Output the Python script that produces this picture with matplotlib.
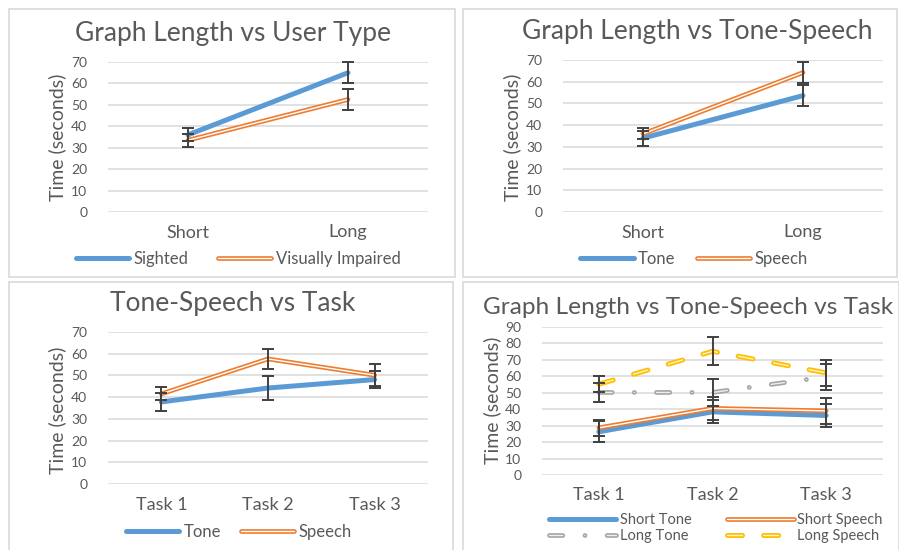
import matplotlib
matplotlib.use("Agg")
import matplotlib.pyplot as plt
import matplotlib.patheffects as pe
from matplotlib.patches import Rectangle

plt.rcParams.update({
    "font.family": ["Lato", "DejaVu Sans"],
    "lines.scale_dashes": False,
})

W, H = 899, 550
TXT = "#595959"
GRID = "#D9D9D9"
BLUE = "#5B9BD5"
ORANGE = "#ED7D31"
GRAY = "#A5A5A5"
GOLD = "#FFC000"
ERR = "#404040"

# data
length_cats = ["Short", "Long"]
task_cats = ["Task 1", "Task 2", "Task 3"]

sighted = [36, 65]
sighted_err = [3, 5]
impaired = [33.5, 52.5]
impaired_err = [3, 5]

tone_len = [34, 53.6]
tone_len_err = [3.5, 5]
speech_len = [36, 64.2]
speech_len_err = [2.5, 5]

tone_task = [37.8, 44.2, 48.1]
tone_task_err = [4.3, 5.5, 4]
speech_task = [41.5, 57.6, 50.1]
speech_task_err = [3, 4.5, 5]

short_tone = [26.3, 38.4, 36.2]
short_tone_err = [6.3, 7, 7]
short_speech = [28.7, 40.5, 39.0]
short_speech_err = [5, 7, 8]
long_tone = [50.2, 50.2, 59.7]
long_tone_err = [6, 8, 8]
long_speech = [55.2, 75.2, 62.1]
long_speech_err = [5, 8.5, 7.7]


def fx(px):
    return px / W


def fy(py):
    return 1 - py / H


def rect(x0, y0, x1, y1):
    return [x0 / W, 1 - y1 / H, (x1 - x0) / W, (y1 - y0) / H]


def draw_series(ax, y, err, kind, label):
    x = list(range(len(y)))
    if kind == "blue":
        ln, = ax.plot(x, y, color=BLUE, lw=3.6, solid_capstyle="round", label=label, zorder=3)
    elif kind == "orange":
        ln, = ax.plot(x, y, color="white", lw=1.0, solid_capstyle="round", label=label, zorder=3,
                      path_effects=[pe.Stroke(linewidth=3.4, foreground=ORANGE), pe.Normal()])
    elif kind == "gray":
        ln, = ax.plot(x, y, color="#EDEDED", lw=1.0, label=label, zorder=3,
                      linestyle=(0, (9.6, 15.9, 0.1, 15.9)), dash_capstyle="round",
                      path_effects=[pe.Stroke(linewidth=3.4, foreground=GRAY), pe.Normal()])
    else:
        ln, = ax.plot(x, y, color="#FFF2CC", lw=1.0, label=label, zorder=3,
                      linestyle=(0, (10.8, 15.2)), dash_capstyle="round",
                      path_effects=[pe.Stroke(linewidth=3.6, foreground=GOLD), pe.Normal()])
    ax.errorbar(x, y, yerr=err, fmt="none", ecolor=ERR, elinewidth=1.4,
                capsize=4.3, capthick=1.4, zorder=4, clip_on=False)
    return ln


def setup_axes(ax, cats, ymax):
    n = len(cats)
    ax.set_xlim(-0.5, n - 0.5)
    ax.set_ylim(0, ymax)
    ax.set_yticks(range(0, ymax + 1, 10))
    ax.set_xticks(range(n))
    ax.set_xticklabels(cats, fontsize=13, color=TXT)
    ax.tick_params(axis="y", labelsize=10, colors=TXT, length=0, pad=15)
    ax.tick_params(axis="x", length=0, pad=9)
    for s in ax.spines.values():
        s.set_visible(False)
    ax.grid(axis="y", color=GRID, lw=1.1)
    ax.set_axisbelow(True)
    ax.patch.set_alpha(0)


def add_text(x, y, s, size, rot=0):
    fig.text(fx(x), fy(y), s, fontsize=size, color=TXT, rotation=rot,
             ha="center", va="center")


def add_legend(ax, handles, cx, cy, size, hl, cs):
    ax.legend(handles=handles, loc="center", bbox_to_anchor=(fx(cx), fy(cy)),
              bbox_transform=fig.transFigure, ncol=2, frameon=False, fontsize=size,
              labelcolor=TXT, handlelength=hl, handletextpad=0.25, columnspacing=cs,
              labelspacing=0.15, borderpad=0)


fig = plt.figure(figsize=(W / 100, H / 100), dpi=100)

# panel frames
for (x0, y0, x1, y1) in [(9, 9, 455, 277), (463, 9, 897, 277),
                         (9, 282, 453, 552), (463, 282, 899, 552)]:
    fig.patches.append(Rectangle((fx(x0), fy(y1)), (x1 - x0) / W, (y1 - y0) / H,
                                 transform=fig.transFigure, fill=False,
                                 edgecolor=GRID, lw=1.2))

# panel 1
ax1 = fig.add_axes(rect(108, 62, 428, 212))
setup_axes(ax1, length_cats, 70)
h1 = draw_series(ax1, sighted, sighted_err, "blue", "Sighted")
h2 = draw_series(ax1, impaired, impaired_err, "orange", "Visually Impaired")
add_text(233, 33, "Graph Length vs User Type", 19)
add_text(57, 137, "Time (seconds)", 14, 90)
add_legend(ax1, [h1, h2], 238, 259, 12, 3.2, 1.8)

# panel 2
ax2 = fig.add_axes(rect(563, 60, 883, 212))
setup_axes(ax2, length_cats, 70)
h1 = draw_series(ax2, tone_len, tone_len_err, "blue", "Tone")
h2 = draw_series(ax2, speech_len, speech_len_err, "orange", "Speech")
add_text(697, 32, "Graph Length vs Tone-Speech", 19)
add_text(512, 137, "Time (seconds)", 14, 90)
add_legend(ax2, [h1, h2], 694, 259, 12, 3.2, 1.3)

# panel 3
ax3 = fig.add_axes(rect(108, 332, 428, 484))
setup_axes(ax3, task_cats, 70)
h1 = draw_series(ax3, tone_task, tone_task_err, "blue", "Tone")
h2 = draw_series(ax3, speech_task, speech_task_err, "orange", "Speech")
add_text(233, 304, "Tone-Speech vs Task", 19)
add_text(57, 410, "Time (seconds)", 14, 90)
add_legend(ax3, [h1, h2], 239, 532, 12, 3.2, 1.2)

# panel 4
ax4 = fig.add_axes(rect(542, 327, 883, 475))
setup_axes(ax4, task_cats, 90)
h1 = draw_series(ax4, short_tone, short_tone_err, "blue", "Short Tone")
h2 = draw_series(ax4, short_speech, short_speech_err, "orange", "Short Speech")
h3 = draw_series(ax4, long_tone, long_tone_err, "gray", "Long Tone")
h4 = draw_series(ax4, long_speech, long_speech_err, "gold", "Long Speech")
add_text(688, 308, "Graph Length vs Tone-Speech vs Task", 17.6)
add_text(492, 400, "Time (seconds)", 14, 90)
# column-major fill, so order gives rows: Short Tone | Short Speech, Long Tone | Long Speech
add_legend(ax4, [h1, h3, h2, h4], 716, 528, 10.5, 4.6, 2.4)

fig.savefig("out.png", dpi=100)
